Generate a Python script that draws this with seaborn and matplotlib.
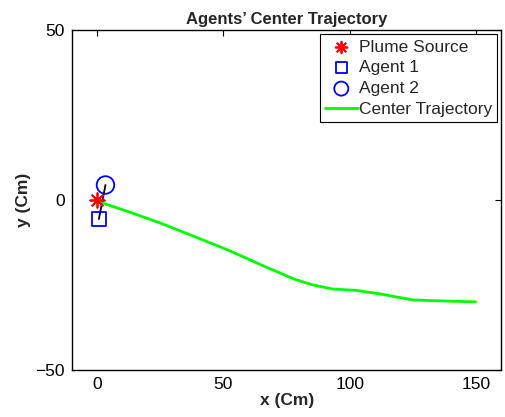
import matplotlib
matplotlib.use("Agg")
import matplotlib.pyplot as plt
import seaborn as sns
import pandas as pd

# Data
source_x = [0.0]
source_y = [0.0]
agent1_x = [0.7]
agent1_y = [-5.6]
agent2_x = [3.3]
agent2_y = [4.4]
traj_x = [1.7, 12.2, 25.4, 38.6, 51.7, 64.9, 78.0, 85.3, 93.2, 102.4, 111.6, 124.8, 131.3, 149.8]
traj_y = [-0.8, -3.4, -6.9, -10.8, -14.7, -19.1, -23.3, -25.0, -26.2, -26.6, -27.6, -29.4, -29.6, -30.0]

sns.set_theme(style="white")
plt.rcParams['font.family'] = ['Liberation Sans', 'DejaVu Sans']

fig = plt.figure(figsize=(5.06, 4.17), dpi=100)
ax = fig.add_axes([0.142, 0.113, 0.849, 0.815])

traj = pd.DataFrame({"x": traj_x, "y": traj_y})
link = pd.DataFrame({"x": agent1_x + agent2_x, "y": agent1_y + agent2_y})

sns.lineplot(data=link, x="x", y="y", sort=False, color="black", linewidth=1.3, ax=ax, legend=False)
sns.lineplot(data=traj, x="x", y="y", sort=False, color="#00ff00", linewidth=2, ax=ax,
             label="Center Trajectory")
sns.scatterplot(x=source_x, y=source_y, marker=(8, 2, 0), s=110, color="red", linewidth=1.3,
                ax=ax, label="Plume Source", zorder=5)
sns.scatterplot(x=agent1_x, y=agent1_y, marker="s", s=100, facecolor="none", edgecolor="blue",
                linewidth=1.3, ax=ax, label="Agent 1", zorder=5)
sns.scatterplot(x=agent2_x, y=agent2_y, marker="o", s=160, facecolor="none", edgecolor="blue",
                linewidth=1.3, ax=ax, label="Agent 2", zorder=5)

ax.set_xlim(-10, 160)
ax.set_ylim(-50, 50)
ax.set_xticks([0, 50, 100, 150])
ax.set_yticks([-50, 0, 50])
ax.set_yticklabels(["\u221250", "0", "50"])
ax.tick_params(direction="in", length=4, width=0.8, top=True, right=True,
               labelsize=12.5, colors="black", pad=5)
for s in ax.spines.values():
    s.set_color("black")
    s.set_linewidth(1)

ax.set_xlabel("x (Cm)", fontsize=12.5, fontweight="bold", labelpad=1)
ax.set_ylabel("y (Cm)", fontsize=12.5, fontweight="bold", labelpad=3)
ax.set_title("Agents\u2019 Center Trajectory", fontsize=12, fontweight="bold", pad=4)

handles, labels = ax.get_legend_handles_labels()
order = ["Plume Source", "Agent 1", "Agent 2", "Center Trajectory"]
hmap = dict(zip(labels, handles))
leg = ax.legend([hmap[k] for k in order], order, loc="upper right", fontsize=12.5,
                frameon=True, fancybox=False, edgecolor="black", framealpha=1,
                borderpad=0.3, labelspacing=0.32, handlelength=1.9, handletextpad=0.05,
                borderaxespad=0.25, markerscale=0.8)
leg.get_frame().set_linewidth(0.8)

fig.savefig("out.png", dpi=100)
